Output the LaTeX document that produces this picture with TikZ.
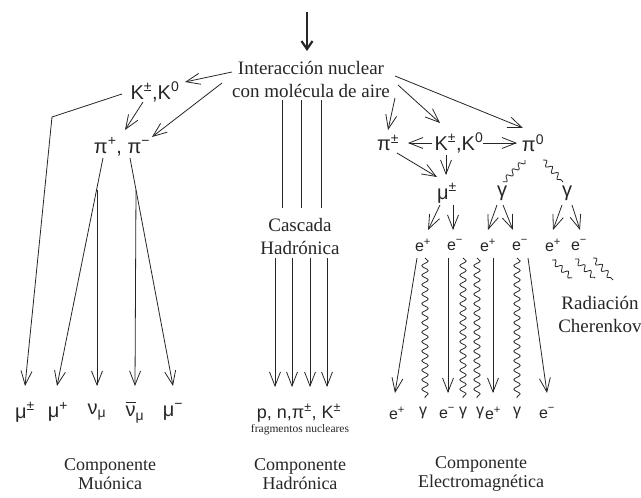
\documentclass[tikz,border=0pt]{standalone}
\usepackage{fontspec}
\setmainfont{Liberation Serif}
\newfontfamily\pf{Liberation Sans}
\usetikzlibrary{arrows.meta,calc,decorations.pathmorphing}
\definecolor{ink}{gray}{0.15}
\newcommand\sps[1]{\textsuperscript{#1}}
\newcommand\sbs[1]{\textsubscript{#1}}
\begin{document}
\begin{tikzpicture}[x=1pt,y=-1pt,
  txt/.style={inner sep=0pt,text=ink,align=center,font=\fontsize{19}{23}\selectfont},
  lbl/.style={inner sep=0pt,text=ink,align=center,font=\fontsize{18}{19}\selectfont},
  pt/.style={inner sep=0pt,text=ink,font=\pf\fontsize{20}{22}\selectfont},
  ept/.style={pt,font=\pf\fontsize{16}{18}\selectfont},
  ln/.style={draw=ink,line width=0.8pt},
  arr/.style={ln,-{Straight Barb[length=14pt,width=11pt]}},
  wv/.style={ln,decorate,decoration={snake,segment length=9.5pt,amplitude=3.2pt}},
  swv/.style={ln,decorate,decoration={snake,segment length=8.5pt,amplitude=2.6pt}},
  prim/.style={draw=ink,line width=2.2pt,-{Straight Barb[length=8pt,width=11pt]}}]
\useasboundingbox (0,0) rectangle (641,498);

% primary interaction
\node[txt] (inter) at (311,79) {Interacción nuclear\\con molécula de aire};
\coordinate (src) at (307,12);
\draw[prim] (src) -- ($(inter)+(-4,-28)$);

% ---- muonic branch ----
\node[pt] (K0L) at (155,92) {K\sps{±},K\sps{0}};
\node[pt] (PiL) at (122,147) {π\sps{+}, π\sps{−}};
\node[pt] (muPM) at (25,412) {μ\sps{±}};
\node[pt] (muP) at (58,412) {μ\sps{+}};
\node[pt] (nuL) at (97,412) {ν\sbs{μ}};
\node[pt] (nubL) at (135,412) {$\overline{\mbox{ν\vphantom{K}}}$\sbs{μ}};
\node[pt] (muML) at (173,412) {μ\sps{−}};

\draw[arr] ($(inter)+(-79,-7)$) -- ($(K0L)+(30,-10)$);
\draw[arr] ($(inter)+(-89,4)$) -- ($(PiL)+(30,-10)$);
\draw[arr] ($(K0L)+(-12,10)$) -- ($(PiL)+(3,-17)$);
\draw[arr] ($(K0L)+(-33,2)$) -- ($(K0L)+(-103,25)$) -- ($(muPM)+(0,-26)$);
\draw[arr] ($(PiL)+(-19,11)$) -- ($(muP)+(-1,-26)$);
\draw[arr] ($(PiL)+(8,11)$) -- ($(muML)+(0,-26)$);
\draw[arr] ($(nuL)+(0,-222)$) -- ($(nuL)+(0,-26)$);
\draw[arr] ($(nubL)+(1,-222)$) -- ($(nubL)+(0,-26)$);

\node[lbl] (compM) at (110,474) {Componente\\Muónica};

% ---- hadronic branch ----
\node[txt] (casc) at (300,236) {Cascada\\Hadrónica};
\node[pt,font=\pf\fontsize{18}{20}\selectfont] (had) at (299,413) {p, n,π\sps{±}, K\sps{±}};
\node[inner sep=0pt,text=ink,font=\fontsize{11.5}{13}\selectfont] (frag) at (300,430) {fragmentos nucleares};
\foreach \a/\b in {-29/-18,-10/1,10/21}
  \draw[ln] ($(inter)+(\a,21)$) -- ($(casc)+(\b,-28)$);
\foreach \a in {-25,-8,10,27}
  \draw[arr] ($(casc)+(\a,22)$) -- ($(had)+(\a+1,-26)$);
\node[lbl] (compH) at (300,474) {Componente\\Hadrónica};

% ---- electromagnetic branch ----
\node[pt] (piPM) at (388,143) {π\sps{±}};
\node[pt] (KR) at (459,143) {K\sps{±},K\sps{0}};
\node[pt] (pi0) at (533,143) {π\sps{0}};
\node[pt] (muR) at (447,193) {μ\sps{±}};
\node[pt] (g1) at (502,193) {γ};
\node[pt] (g2) at (567,193) {γ};
\foreach \n/\x/\s in {e1/423/+,e2/455/−,e3/488/+,e4/520/−,e5/553/+,e6/579/−}
  \node[ept] (\n) at (\x,245) {e\sps{\s}};
\foreach \n/\x/\t in {f1/397/e\sps{+},f2/423/γ,f3/447/e\sps{−},f4/463/γ,f5/480/γ,f6/493/e\sps{+},f7/517/γ,f8/547/e\sps{−}}
  \node[ept] (\n) at (\x,413) {\t};

\draw[arr] ($(inter)+(84,-3)$) -- ($(pi0)+(-10,-15)$);
\draw[arr] ($(inter)+(87,6)$) -- ($(KR)+(-19,-20)$);
\draw[arr] ($(inter)+(84,19)$) -- ($(piPM)+(0,-13)$);
\draw[arr] ($(KR)+(-27,0)$) -- ($(piPM)+(20,0)$);
\draw[arr] ($(KR)+(24,0)$) -- ($(pi0)+(-16,0)$);
\draw[arr] ($(piPM)+(9,10)$) -- ($(muR)+(-10,-16)$);
\draw[arr] ($(KR)+(-13,12)$) -- ($(muR)+(-1,-18)$);
\draw[swv] ($(pi0)+(-8,17)$) -- ($(g1)+(1,-11)$);
\draw[swv] ($(pi0)+(10,17)$) -- ($(g2)+(-4,-11)$);

\draw[arr] ($(muR)+(-7,12)$) -- ($(e1)+(5,-15)$);
\draw[arr] ($(muR)+(6,12)$) -- ($(e2)+(-2,-15)$);
\draw[arr] ($(g1)+(-5,12)$) -- ($(e3)+(0,-15)$);
\draw[arr] ($(g1)+(1,12)$) -- ($(e4)+(-7,-15)$);
\draw[arr] ($(g2)+(-5,12)$) -- ($(e5)+(0,-15)$);
\draw[arr] ($(g2)+(5,12)$) -- ($(e6)+(1,-15)$);

% Cherenkov photons
\draw[swv] ($(e5)+(-1,15)$) -- ($(e5)+(19,33)$);
\draw[swv] ($(e6)+(-4,14)$) -- ($(e6)+(16,33)$);
\draw[swv] ($(e6)+(14,13)$) -- ($(e6)+(34,35)$);
\node[txt] (rad) at (600,314) {Radiación\\Cherenkov};

% secondary electrons and photons
\draw[arr] ($(e1)+(-6,13)$) -- ($(f1)+(-2,-20)$);
\draw[wv] ($(e1)+(2,13)$) -- ($(f2)+(2,-15)$);
\draw[arr] ($(e2)+(-7,13)$) -- ($(f3)+(1,-20)$);
\draw[wv] ($(e2)+(8,13)$) -- ($(f4)+(0,-15)$);
\draw[wv] ($(e3)+(-11,13)$) -- ($(f5)+(-3,-15)$);
\draw[arr] ($(e3)+(5,13)$) -- ($(f6)+(0,-20)$);
\draw[wv] ($(e4)+(-3,13)$) -- ($(f7)+(0,-15)$);
\draw[arr] ($(e4)+(8,13)$) -- ($(f8)+(0,-20)$);

\node[lbl] (compE) at (481,474) {Componente\\Electromagnética};
\end{tikzpicture}
\end{document}
